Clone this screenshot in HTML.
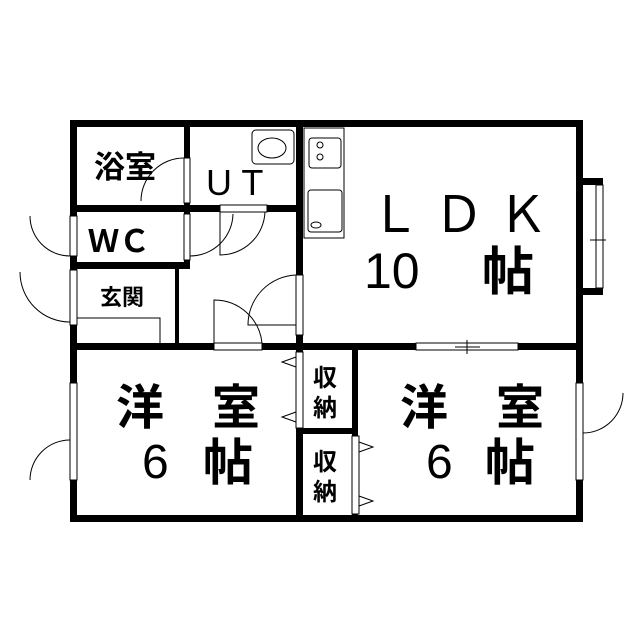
<!DOCTYPE html>
<html><head><meta charset="utf-8"><style>
html,body{margin:0;padding:0;background:#fff;}
svg{display:block}
text{font-family:"Liberation Sans","Noto Sans CJK JP",sans-serif;fill:#000;}
.b{font-weight:bold}
</style></head><body>
<svg width="640" height="640" viewBox="0 0 640 640" xmlns="http://www.w3.org/2000/svg">
<rect width="640" height="640" fill="#fff"/>
<g fill="#000">
<rect x="70" y="120" width="513" height="7"/>
<rect x="70" y="515" width="513" height="7"/>
<rect x="70" y="120" width="7" height="402"/>
<rect x="576" y="120" width="7" height="402"/>
<rect x="184" y="120" width="6" height="92"/>
<rect x="70" y="205" width="233" height="7"/>
<rect x="296" y="120" width="7" height="230"/>
<rect x="70" y="262" width="120" height="7"/>
<rect x="184" y="205" width="6" height="64"/>
<rect x="175" y="265" width="4" height="82"/>
<rect x="70" y="343" width="513" height="7"/>
<rect x="296" y="343" width="7" height="177"/>
<rect x="352" y="343" width="6" height="177"/>
<rect x="296" y="428" width="62" height="6"/>
<rect x="583" y="178" width="20" height="7"/>
<rect x="583" y="288" width="20" height="7"/>
</g>
<g fill="#fff" stroke="#000" stroke-width="1">
<rect x="184" y="158" width="6" height="45"/>
<rect x="70" y="216" width="7" height="40"/>
<rect x="184" y="214" width="6" height="46"/>
<rect x="70" y="270" width="7" height="55"/>
<rect x="220" y="205" width="47" height="7"/>
<rect x="296" y="275" width="7" height="60"/>
<rect x="214" y="343" width="48" height="7"/>
<rect x="70" y="383" width="7" height="97"/>
<rect x="416" y="343" width="102" height="7"/>
<rect x="576" y="383" width="7" height="97"/>
<rect x="296" y="352" width="7" height="76"/>
<rect x="352" y="436" width="7" height="78"/>
<rect x="596" y="185" width="7" height="103"/>
<rect x="304" y="128" width="40" height="110"/>
<rect x="309" y="138" width="32" height="30" rx="3"/>
<rect x="308" y="190" width="34" height="42" rx="3"/>
<rect x="252" y="130" width="42" height="34" rx="4"/>
<ellipse cx="272" cy="148" rx="14" ry="10"/>
<circle cx="320" cy="145" r="3"/><circle cx="320" cy="157" r="3"/>
<ellipse cx="316" cy="225" rx="5" ry="3"/>
<polyline points="77,318 160,318 160,343"/>
</g>
<g fill="none" stroke="#000" stroke-width="1">
<path d="M184,158 A43,43 0 0 0 141,201"/>
<path d="M70,256 A40,40 0 0 1 30,216"/>
<path d="M190,256 A43,43 0 0 0 233,214"/>
<path d="M220,212 L220,255 A45,45 0 0 0 265,212"/>
<path d="M70,322 A50,50 0 0 1 20,272"/>
<path d="M296,275 A50,50 0 0 0 248,325 L296,325"/>
<path d="M214,343 L214,300 A48,48 0 0 1 262,343"/>
<path d="M70,440 A40,40 0 0 0 30,480"/>
<path d="M583,433 A40,40 0 0 0 623,393"/>
<path d="M296,357 L282,362 L296,367 M296,412 L282,417 L296,422"/>
<path d="M359,442 L373,447 L359,452 M359,496 L373,501 L359,506"/>
<path d="M467,340 L467,354 M455,347 L480,347"/>
<path d="M590,240 L606,240"/>
</g>
<text class="b" x="94" y="178" font-size="31">浴室</text>
<text x="206" y="195" font-size="36">U  T</text>
<text class="b" x="88" y="252" font-size="31">ＷＣ</text>
<text class="b" x="100" y="305" font-size="22">玄関</text>
<text x="370" y="232" font-size="50">Ｌ Ｄ Ｋ</text>
<text x="364" y="288" font-size="50">10</text>
<text class="b" x="482" y="290" font-size="52">帖</text>
<text class="b" x="116" y="424" font-size="48">洋　室</text>
<text x="142" y="478" font-size="48">6</text>
<text class="b" x="203" y="480" font-size="50">帖</text>
<text class="b" x="400" y="424" font-size="48">洋　室</text>
<text x="426" y="478" font-size="48">6</text>
<text class="b" x="485" y="480" font-size="50">帖</text>
<text class="b" x="313" y="386" font-size="24">収</text>
<text class="b" x="313" y="416" font-size="24">納</text>
<text class="b" x="313" y="470" font-size="24">収</text>
<text class="b" x="313" y="500" font-size="24">納</text>
</svg>
</body></html>
